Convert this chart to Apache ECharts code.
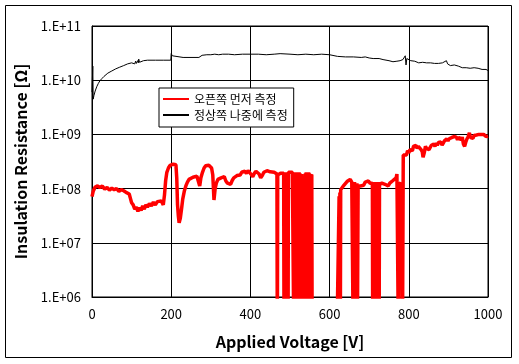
<!DOCTYPE html>
<html><head><meta charset="utf-8">
<script src="https://cdn.jsdelivr.net/npm/echarts@6/dist/echarts.min.js"></script>
<style>html,body{margin:0;padding:0;background:#fff}#c{width:519px;height:364px}</style>
</head><body><div id="c"></div>
<script>
// Series 1: 오픈쪽 먼저 측정 — voltage [V], resistance [Ω]
// 1e5 marks readings that fell below the 1.E+06 floor of the axis
const redV = [
  0,3,8,14,20,26,32,38,44,50,56,62,68,74,80,86,90,94,97,100,104,108,112,116,120,124,128,132,136,140,145,150,155,160,165,170,175,180,183,186,189,193,197,201,205,209,212,214,216,218,220,223,226,229,233,237,241,245,250,255,260,265,268,272,275,279,283,287,291,295,299,302,305,308,311,314,318,322,326,330,334,338,342,346,350,354,358,362,366,370,374,378,382,386,390,394,398,402,406,410,414,418,422,426,430,434,438,442,446,450,455,460,465,
  467,468,469,476,480,484,
  485,486,487,488,489,490,491,492,493,494,495,496,500,506,
  510,511,512,513,514,515,516,517,518,519,520,521,522,523,524,525,526,530,534,
  538,539,540,541,542,543,544,545,546,547,548,549,550,551,552,553,554,555,556,618,
  623,624,625,626,627,628,630,632,634,636,640,644,648,652,656,
  660,661,662,663,664,665,666,667,668,669,670,672,676,678,682,686,690,694,698,702,704,
  708,709,710,711,712,713,714,715,716,717,718,719,720,721,722,723,724,725,726,
  732,736,740,744,748,752,756,760,764,768,770,773,774,775,778,780,782,784,785,786,
  788,791,794,797,800,803,806,809,812,815,818,821,824,828,831,834,836,839,842,845,848,851,854,857,860,863,866,869,872,875,878,881,884,887,890,893,896,899,902,905,908,911,914,917,920,923,926,929,932,935,938,941,944,947,950,953,956,959,962,965,968,971,974,977,980,983,986,989,992,995,998,1000];
const redR = [
  7.08e7,8.91e7,1.07e8,1.12e8,1.05e8,1.12e8,9.77e7,1.05e8,9.33e7,1.02e8,9.55e7,1.0e8,8.91e7,9.55e7,9.12e7,8.51e7,9.12e7,7.94e7,6.61e7,5.50e7,5.01e7,4.17e7,4.57e7,3.80e7,4.47e7,3.98e7,4.79e7,4.17e7,5.01e7,4.57e7,5.25e7,4.79e7,5.62e7,5.01e7,5.75e7,5.50e7,5.89e7,5.01e7,7.59e7,1.41e8,2.0e8,2.40e8,2.69e8,2.88e8,2.82e8,2.69e8,2.75e8,1.58e8,5.01e7,3.16e7,2.34e7,2.82e7,4.17e7,6.31e7,8.91e7,1.12e8,1.32e8,1.48e8,1.55e8,1.62e8,1.66e8,1.70e8,1.41e8,1.12e8,1.58e8,2.0e8,2.40e8,2.63e8,2.75e8,2.69e8,2.75e8,2.40e8,1.78e8,6.17e7,1.0e8,1.26e8,1.48e8,1.41e8,1.58e8,1.51e8,1.66e8,1.38e8,1.26e8,1.32e8,1.20e8,1.41e8,1.58e8,1.51e8,1.74e8,1.86e8,1.78e8,2.0e8,1.86e8,2.09e8,1.91e8,2.14e8,2.04e8,1.82e8,1.66e8,1.91e8,2.09e8,2.0e8,1.86e8,1.58e8,1.74e8,2.0e8,2.09e8,2.14e8,2.0e8,2.04e8,1.91e8,2.0e8,1.86e8,
  1.86e8,1e5,1.78e8,1.91e8,2.0e8,1.91e8,
  1e5,2.0e8,1e5,1.91e8,1e5,2.0e8,1e5,1.86e8,1e5,1.91e8,1e5,2.0e8,1.91e8,2.0e8,
  1e5,1.86e8,1e5,2.0e8,1e5,1.91e8,1e5,2.0e8,1e5,1.86e8,1e5,1.91e8,1e5,2.0e8,1e5,1.91e8,1e5,1.86e8,2.0e8,
  1e5,1.91e8,1e5,2.0e8,1e5,1.86e8,1e5,1.91e8,1e5,2.0e8,1e5,1.91e8,1e5,1.86e8,1e5,1.86e8,1e5,1.82e8,1e5,1e5,
  1e5,7.24e7,1e5,8.51e7,1e5,9.55e7,1.0e8,1.05e8,1.10e8,1.15e8,1.23e8,1.35e8,1.32e8,1.48e8,1.32e8,
  1e5,1.26e8,1e5,1.32e8,1e5,1.26e8,1e5,1.20e8,1e5,1.26e8,1e5,1.12e8,1.12e8,1.12e8,1.20e8,1.15e8,1.32e8,1.26e8,1.38e8,1.26e8,1.17e8,
  1.26e8,1e5,1.32e8,1e5,1.26e8,1e5,1.32e8,1e5,1.26e8,1e5,1.20e8,1e5,1.26e8,1e5,1.32e8,1e5,1.26e8,1e5,1.20e8,
  1.26e8,1.32e8,1.20e8,1.26e8,1.12e8,1.26e8,1.32e8,1.41e8,1.51e8,1.58e8,1.86e8,1.86e8,1e5,1.26e8,1.26e8,1.20e8,1.20e8,1e5,1e5,4.17e8,
  4.47e8,3.98e8,4.17e8,5.01e8,4.57e8,5.25e8,5.62e8,5.01e8,6.03e8,5.75e8,6.31e8,5.50e8,6.03e8,5.89e8,5.25e8,4.79e8,3.80e8,4.57e8,6.03e8,5.50e8,5.75e8,5.25e8,5.62e8,6.31e8,5.89e8,6.61e8,6.03e8,6.92e8,6.31e8,7.08e8,6.61e8,7.24e8,6.31e8,6.92e8,7.59e8,7.08e8,8.32e8,7.59e8,8.32e8,7.94e8,8.71e8,8.32e8,9.12e8,8.51e8,8.91e8,7.94e8,8.91e8,8.51e8,7.94e8,8.91e8,6.61e8,6.03e8,7.24e8,8.32e8,9.12e8,1.07e9,8.71e8,9.33e8,8.51e8,9.55e8,8.91e8,9.77e8,9.12e8,1.0e9,9.33e8,1.0e9,9.55e8,1.0e9,9.55e8,9.12e8,9.77e8,9.33e8];

// Series 2: 정상쪽 나중에 측정 — voltage [V], resistance [Ω]
const blackV = [0,2,3,5,8,12,16,20,25,30,35,40,45,50,55,60,65,70,75,80,85,90,95,100,105,108,110,112,115,117,118,120,122,125,130,140,160,180,199,200,203,208,230,250,270,278,290,300,310,315,320,330,345,360,380,400,420,440,460,475,480,500,520,540,560,580,600,605,620,640,660,680,690,700,710,715,725,735,740,750,760,770,778,785,790,791,793,795,800,805,810,815,820,825,830,835,840,845,850,855,860,865,870,875,880,885,890,895,898,905,910,915,920,925,930,935,940,945,950,955,960,965,970,975,980,985,990,995,1000];
const blackR = [6.03e9,1.82e10,4.47e9,5.25e9,6.31e9,7.59e9,8.71e9,9.77e9,1.07e10,1.17e10,1.26e10,1.35e10,1.41e10,1.48e10,1.55e10,1.62e10,1.66e10,1.74e10,1.82e10,1.86e10,1.95e10,2.0e10,2.04e10,2.09e10,2.14e10,2.0e10,2.24e10,2.04e10,2.29e10,2.09e10,2.45e10,2.14e10,2.29e10,2.24e10,2.29e10,2.34e10,2.34e10,2.34e10,2.34e10,3.09e10,2.82e10,2.63e10,2.63e10,2.63e10,2.63e10,2.88e10,2.95e10,2.95e10,3.02e10,3.16e10,2.95e10,3.02e10,3.02e10,2.95e10,3.02e10,3.02e10,3.02e10,2.95e10,3.02e10,3.09e10,3.02e10,3.02e10,2.95e10,3.02e10,2.95e10,3.02e10,2.95e10,2.75e10,2.75e10,2.69e10,2.69e10,2.63e10,2.69e10,2.57e10,2.51e10,2.45e10,2.51e10,2.40e10,2.45e10,2.29e10,2.19e10,2.24e10,2.29e10,2.40e10,2.45e10,2.82e10,1.91e10,2.51e10,2.40e10,2.29e10,2.19e10,2.24e10,2.14e10,2.09e10,2.04e10,2.14e10,2.04e10,2.09e10,2.0e10,2.09e10,2.0e10,2.04e10,1.95e10,2.04e10,2.0e10,2.09e10,2.0e10,2.29e10,2.0e10,1.86e10,1.82e10,1.91e10,1.78e10,1.82e10,1.78e10,1.70e10,1.62e10,1.70e10,1.58e10,1.66e10,1.62e10,1.70e10,1.62e10,1.66e10,1.66e10,1.58e10,1.55e10,1.58e10,1.51e10];

const seriesNames = ['오픈쪽 먼저 측정', '정상쪽 나중에 측정'];
const xTicks = [0, 200, 400, 600, 800, 1000];
const yTickLabels = ['1.E+06','1.E+07','1.E+08','1.E+09','1.E+10','1.E+11'];

const pairs = (xs, ys) => xs.map((x, i) => [x, ys[i]]);
const font = "'Noto Sans CJK KR', 'Noto Sans', sans-serif";

const chart = echarts.init(document.getElementById('c'), null, {renderer: 'canvas'});
chart.setOption({
  animation: false,
  backgroundColor: '#fff',
  grid: {left: 92, top: 26, width: 396, height: 271, show: true, borderColor: '#000', borderWidth: 1, backgroundColor: 'transparent'},
  xAxis: {
    type: 'value', min: xTicks[0], max: xTicks[xTicks.length - 1], interval: 200,
    axisLine: {show: true, lineStyle: {color: '#000', width: 1}},
    axisTick: {show: false},
    splitLine: {show: true, lineStyle: {color: '#000', width: 1}},
    axisLabel: {color: '#000', fontSize: 13, fontFamily: font, margin: 11, formatter: v => String(v)},
    name: 'Applied Voltage [V]', nameLocation: 'middle', nameGap: 37,
    nameTextStyle: {color: '#000', fontSize: 16, fontWeight: 'bold', fontFamily: font}
  },
  yAxis: {
    type: 'log', logBase: 10, min: 1e6, max: 1e11,
    axisLine: {show: true, lineStyle: {color: '#000', width: 1}},
    axisTick: {show: false},
    splitLine: {show: true, lineStyle: {color: '#000', width: 1}},
    axisLabel: {color: '#000', fontSize: 13, fontFamily: font, margin: 11,
      formatter: v => yTickLabels[Math.round(Math.log10(v)) - 6]},
    name: 'Insulation Resistance [Ω]', nameLocation: 'middle', nameGap: 63,
    nameTextStyle: {color: '#000', fontSize: 16, fontWeight: 'bold', fontFamily: font}
  },
  legend: {
    left: 159, top: 88, orient: 'vertical',
    backgroundColor: '#fff', borderColor: '#000', borderWidth: 1, borderRadius: 0,
    padding: [5, 6, 6, 3], itemGap: 4, itemWidth: 26, itemHeight: 14,
    itemStyle: {opacity: 0},
    textStyle: {color: '#000', fontSize: 12, fontFamily: font},
    data: seriesNames
  },
  graphic: [{type: 'rect', shape: {x: 5.5, y: 5.5, width: 506, height: 352}, style: {fill: 'none', stroke: '#000', lineWidth: 1}, z: 100, silent: true}],
  series: [
    {name: seriesNames[0], type: 'line', data: pairs(redV, redR), symbol: 'none', showSymbol: false, clip: true,
     lineStyle: {color: '#ff0000', width: 3.5}, itemStyle: {color: '#ff0000'}},
    {name: seriesNames[1], type: 'line', data: pairs(blackV, blackR), symbol: 'none', showSymbol: false, clip: true,
     lineStyle: {color: '#000', width: 1}, itemStyle: {color: '#000'}}
  ]
});
</script></body></html>
